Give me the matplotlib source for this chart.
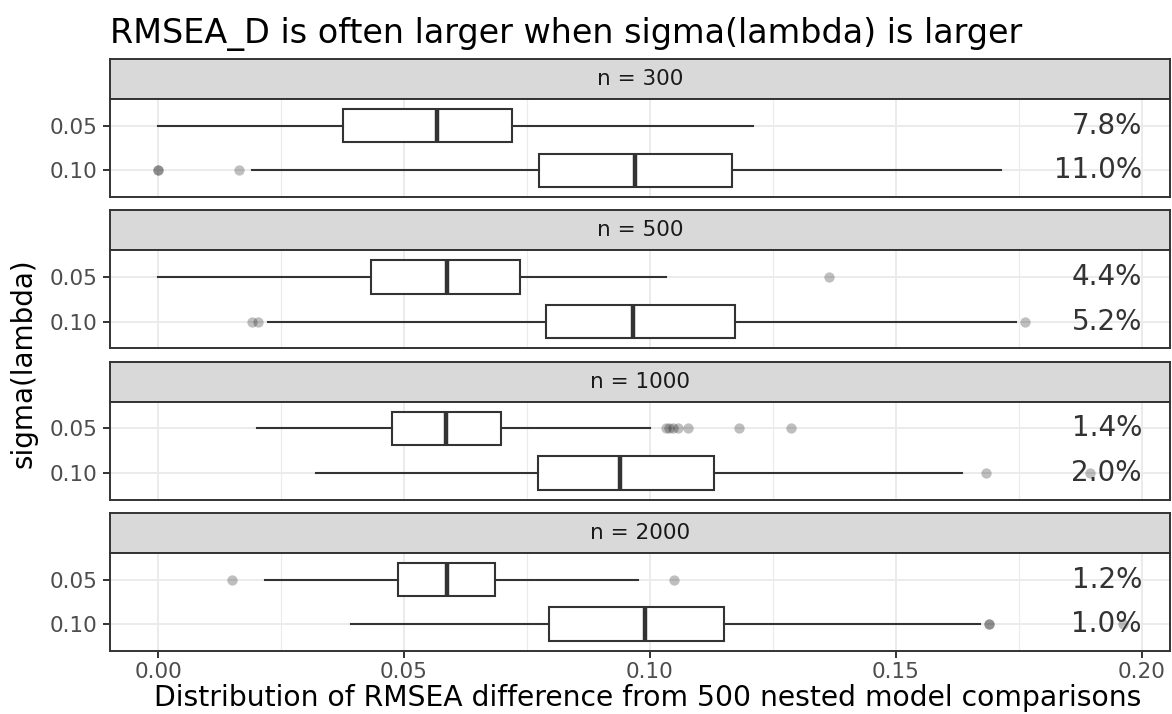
import numpy as np
import matplotlib.pyplot as plt
from matplotlib.ticker import MultipleLocator

# facets and rows
n_labels = ["n = 300", "n = 500", "n = 1000", "n = 2000"]
sigma_labels = ["0.05", "0.10"]

# box stats, [facet][row]
whislo = [[0.000, 0.0191], [0.000, 0.0224], [0.0201, 0.0321], [0.0218, 0.0392]]
q1 = [[0.0376, 0.0775], [0.0432, 0.0788], [0.0476, 0.0772], [0.0487, 0.0794]]
med = [[0.0567, 0.0970], [0.0587, 0.0965], [0.0585, 0.0940], [0.0587, 0.0990]]
q3 = [[0.0720, 0.1167], [0.0735, 0.1172], [0.0697, 0.1130], [0.0684, 0.1150]]
whishi = [[0.1209, 0.1714], [0.1033, 0.1744], [0.1000, 0.1634], [0.0976, 0.1671]]
outliers = [
    [[], [0.0, 0.0, 0.0164]],
    [[0.1363], [0.0191, 0.0203, 0.1762]],
    [[0.1032, 0.1039, 0.1047, 0.1056, 0.1077, 0.1180, 0.1287], [0.1682, 0.1894]],
    [[0.0150, 0.1048], [0.1689, 0.1689, 0.1961]],
]
pct_labels = [["7.8%", "11.0%"], ["4.4%", "5.2%"], ["1.4%", "2.0%"], ["1.2%", "1.0%"]]

W, H = 1172, 714
DARK = "#333333"

fig = plt.figure(figsize=(W / 100, H / 100), dpi=100)

left, right = 110, 1170
strip_h, panel_h, pitch = 40, 98, 151.3
top0 = 59


def px_axes(x0, y0, w, h):
    return fig.add_axes([x0 / W, 1 - (y0 + h) / H, w / W, h / H])


axes = []
for i, lab in enumerate(n_labels):
    st = top0 + i * pitch
    # strip
    sax = px_axes(left, st, right - left, strip_h)
    sax.set_facecolor("#D9D9D9")
    sax.set_xticks([])
    sax.set_yticks([])
    for s in sax.spines.values():
        s.set_color(DARK)
        s.set_linewidth(1.4)
    sax.text(0.5, 0.5, lab, ha="center", va="center", fontsize=15.5,
             color="#1A1A1A", transform=sax.transAxes)

    ax = px_axes(left, st + strip_h, right - left, panel_h)
    axes.append(ax)
    stats = []
    for r in range(2):
        stats.append(dict(whislo=whislo[i][r], q1=q1[i][r], med=med[i][r],
                          q3=q3[i][r], whishi=whishi[i][r], fliers=[]))
    ax.bxp(stats, positions=[1, 2], widths=0.75, vert=False, showcaps=False,
           showfliers=False, patch_artist=True,
           boxprops=dict(facecolor="white", edgecolor=DARK, linewidth=1.5),
           whiskerprops=dict(color=DARK, linewidth=1.5),
           medianprops=dict(color=DARK, linewidth=3.2),
           zorder=3)
    for r in range(2):
        xs = outliers[i][r]
        ax.scatter(xs, [r + 1] * len(xs), s=55, color="black", alpha=0.25,
                   linewidths=0, zorder=4)
        ax.text(0.2, r + 1, pct_labels[i][r], ha="right", va="center",
                fontsize=20, color="#333333", zorder=5)

    ax.set_xlim(-0.00976, 0.2057)
    ax.set_ylim(2.6, 0.4)
    ax.set_yticks([1, 2])
    ax.set_yticklabels(sigma_labels)
    ax.xaxis.set_major_locator(MultipleLocator(0.05))
    ax.xaxis.set_minor_locator(MultipleLocator(0.025))
    ax.grid(True, which="major", color="#EBEBEB", linewidth=1.4, zorder=0)
    ax.grid(True, which="minor", axis="x", color="#EBEBEB", linewidth=0.8, zorder=0)
    ax.set_axisbelow(True)
    ax.tick_params(axis="y", labelsize=15.5, labelcolor="#4D4D4D", color=DARK,
                   length=5, width=1.4, pad=4)
    ax.tick_params(axis="x", which="minor", length=0)
    for s in ax.spines.values():
        s.set_color(DARK)
        s.set_linewidth(1.4)
    if i < len(n_labels) - 1:
        ax.tick_params(axis="x", which="major", length=0, labelbottom=False)
    else:
        ax.tick_params(axis="x", which="major", labelsize=15.5, labelcolor="#4D4D4D",
                       color=DARK, length=5, width=1.4, pad=3)
        ax.xaxis.set_major_formatter(plt.FormatStrFormatter("%.2f"))

fig.text(left / W, 1 - 43 / H, "RMSEA_D is often larger when sigma(lambda) is larger",
         ha="left", va="baseline", fontsize=24, color="black")
fig.text(24 / W, 1 - 363 / H, "sigma(lambda)", rotation=90, ha="center",
         va="center", fontsize=20)
fig.text(648 / W, 1 - 706 / H,
         "Distribution of RMSEA difference from 500 nested model comparisons",
         ha="center", va="baseline", fontsize=20.3)

fig.savefig("out.png", dpi=100)
